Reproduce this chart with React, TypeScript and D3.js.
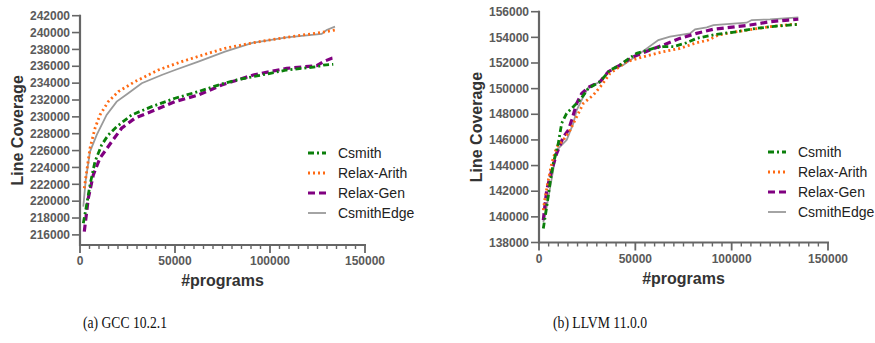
import React from "react";
import * as d3 from "d3";

// ---------- data: GCC 10.2.1 ----------
const gccCsmithX = [1750, 3500, 5260, 7900, 11400, 14900, 19300, 27200, 37700, 50000, 62300, 74600, 82500, 91200, 108800, 124600, 128100, 133300];
const gccCsmithY = [217390, 219560, 221930, 224700, 226670, 227860, 228840, 230230, 231210, 232210, 233000, 233900, 234380, 234770, 235560, 235950, 236150, 236230];
const gccArithX = [2260, 3500, 5260, 7900, 10500, 14900, 20200, 28900, 41200, 53500, 67500, 76300, 91200, 108800, 126300, 134200];
const gccArithY = [221540, 223500, 226280, 228650, 230230, 231810, 233000, 234180, 235560, 236550, 237540, 238130, 238800, 239440, 239990, 240300];
const gccGenX = [2260, 4370, 7000, 10500, 16700, 21900, 28900, 39500, 50000, 62300, 74600, 91200, 108800, 124600, 128100, 132500, 134200];
const gccGenY = [216390, 220350, 223120, 225100, 227060, 228650, 229840, 230820, 231810, 232600, 233780, 234970, 235760, 236070, 236550, 236950, 237020];
const gccEdgeX = [1750, 3000, 5260, 8800, 14000, 19300, 25400, 32500, 43000, 50000, 62300, 76300, 91200, 108800, 127200, 129800, 134200];
const gccEdgeY = [219360, 222500, 225880, 227860, 230230, 231810, 232800, 233990, 234970, 235560, 236550, 237730, 238800, 239440, 239830, 240300, 240700];

// ---------- data: LLVM 11.0.0 ----------
const llvmCsmithX = [2230, 4000, 5710, 7420, 10020, 11760, 14350, 18680, 21280, 25590, 31660, 36850, 42040, 45510, 50700, 59330, 64520, 69700, 76600, 81800, 92200, 102600, 112900, 123300, 134600];
const llvmCsmithY = [139090, 140780, 142610, 144170, 145730, 147290, 148070, 148720, 149110, 150020, 150540, 151450, 151840, 152230, 152750, 153140, 153270, 153270, 153580, 153920, 154240, 154440, 154700, 154880, 155010];
const llvmArithX = [2230, 3110, 4830, 6590, 9190, 12640, 16110, 18700, 23020, 28200, 32540, 36850, 45510, 54140, 64520, 73200, 81800, 87900, 93100, 102600, 119900, 131100, 134600];
const llvmArithY = [140520, 141430, 142860, 144170, 145460, 145990, 146760, 147550, 148850, 149500, 150280, 151190, 152100, 152490, 152880, 153140, 153580, 153790, 154180, 154440, 154830, 155010, 155010];
const llvmGenX = [2230, 4000, 6590, 9190, 12640, 15220, 16980, 19580, 22170, 25590, 31660, 35990, 42040, 48970, 57620, 64520, 73200, 81800, 90500, 99100, 109500, 119900, 129400, 134600];
const llvmGenY = [139740, 142080, 143640, 144950, 146240, 146760, 147550, 148850, 149630, 150100, 150540, 151320, 151840, 152490, 153010, 153400, 153920, 154310, 154630, 154780, 154960, 155220, 155350, 155410];
const llvmEdgeX = [2230, 4000, 9190, 14350, 17800, 19580, 23020, 25590, 31660, 36850, 43770, 52440, 61940, 68000, 78400, 81000, 87100, 90500, 107800, 110400, 119900, 134600];
const llvmEdgeY = [139600, 140780, 145200, 145990, 147290, 148330, 149370, 150100, 150540, 151400, 151840, 152750, 153790, 154050, 154310, 154630, 154780, 154960, 155140, 155350, 155400, 155560];

// ---------- labels / ticks ----------
const seriesNames = ["Csmith", "Relax-Arith", "Relax-Gen", "CsmithEdge"];
const xMajorTicks = [0, 50000, 100000, 150000];
const xMinorStep = 5000;
const gccYTicks = d3.range(216000, 242001, 2000);
const llvmYTicks = d3.range(138000, 156001, 2000);
const captions = ["(a) GCC 10.2.1", "(b) LLVM 11.0.0"];
const xTitle = "#programs";
const yTitle = "Line Coverage";

const styles = [
  { color: "#0a7f0a", width: 2.8, dash: "6,3,2,3" },
  { color: "#ff6a13", width: 2.8, dash: "2,3" },
  { color: "#800080", width: 3.2, dash: "7,4" },
  { color: "#9a9a9a", width: 1.8, dash: "" },
];

const FONT = "'Liberation Sans', Arial, sans-serif";
const SERIF = "'Liberation Serif', 'Times New Roman', serif";
const AXIS = "#666";

type PanelProps = {
  xs: number[][];
  ys: number[][];
  yDomain: [number, number];
  yTicks: number[];
  left: number;
  right: number;
  top: number;
  bottom: number;
  yTopTick: number;
  legendX: number;
  legendY: number;
  yTitleX: number;
};

function Panel(p: PanelProps) {
  const x = d3.scaleLinear().domain([0, 150000]).range([p.left, p.right]);
  const y = d3.scaleLinear().domain(p.yDomain).range([p.bottom, p.top]);
  const minor = d3.range(0, 150001, xMinorStep);
  const axisTop = y(p.yTopTick);
  const line = d3.line<[number, number]>().x((d) => x(d[0])).y((d) => y(d[1]));
  return (
    <g>
      {/* y axis */}
      <line x1={p.left} x2={p.left} y1={axisTop - 1} y2={p.bottom + 1} stroke={AXIS} strokeWidth={2.2} />
      {p.yTicks.map((t) => (
        <g key={t}>
          <line x1={p.left - 8} x2={p.left} y1={y(t)} y2={y(t)} stroke={AXIS} strokeWidth={1.6} />
          <text x={p.left - 10} y={y(t)} dy="0.35em" textAnchor="end" fontFamily={FONT} fontWeight="bold" fontSize={12} fill="#5a5a5a">
            {t}
          </text>
        </g>
      ))}
      {/* x axis */}
      <line x1={p.left - 1} x2={p.right + 1} y1={p.bottom} y2={p.bottom} stroke={AXIS} strokeWidth={2.2} />
      {minor.map((t) => {
        const major = xMajorTicks.includes(t);
        return (
          <line key={t} x1={x(t)} x2={x(t)} y1={p.bottom} y2={p.bottom + (major ? 8 : 4)} stroke={AXIS} strokeWidth={major ? 1.8 : 1.4} />
        );
      })}
      {xMajorTicks.map((t) => (
        <text key={t} x={x(t)} y={p.bottom + 20} textAnchor="middle" fontFamily={FONT} fontWeight="bold" fontSize={12} fill="#5a5a5a">
          {t}
        </text>
      ))}
      <text x={(p.left + p.right) / 2} y={p.bottom + 41} textAnchor="middle" fontFamily={FONT} fontWeight="bold" fontSize={16} fill="#333">
        {xTitle}
      </text>
      <text transform={`translate(${p.yTitleX},${(axisTop + p.bottom) / 2}) rotate(-90)`} textAnchor="middle" dy="0.35em" fontFamily={FONT} fontWeight="bold" fontSize={16} fill="#333">
        {yTitle}
      </text>
      {/* series */}
      {p.xs
        .map((xs, i) => {
          const pts = xs.map((v, j) => [v, p.ys[i][j]] as [number, number]);
          const s = styles[i];
          return (
            <path key={i} d={line(pts) || ""} fill="none" stroke={s.color} strokeWidth={s.width} strokeDasharray={s.dash || undefined} strokeLinecap="butt" />
          );
        })
        .reverse()}
      {/* legend */}
      {seriesNames.map((n, i) => {
        const s = styles[i];
        const ly = p.legendY + i * 20;
        return (
          <g key={n}>
            <line x1={p.legendX} x2={p.legendX + 18} y1={ly} y2={ly} stroke={s.color} strokeWidth={s.width} strokeDasharray={s.dash || undefined} />
            <text x={p.legendX + 30} y={ly} dy="0.35em" fontFamily={FONT} fontSize={14} fill="#222">
              {n}
            </text>
          </g>
        );
      })}
    </g>
  );
}

export default function App() {
  return (
    <svg width={875} height={343} style={{ position: "absolute", left: 0, top: 0, background: "#fff" }}>
      <rect width={875} height={343} fill="#fff" />
      <Panel
        xs={[gccCsmithX, gccArithX, gccGenX, gccEdgeX]}
        ys={[gccCsmithY, gccArithY, gccGenY, gccEdgeY]}
        yDomain={[214800, 242000]}
        yTicks={gccYTicks}
        yTopTick={242000}
        left={80}
        right={365}
        top={15.7}
        bottom={245}
        legendX={308}
        legendY={153}
        yTitleX={17}
      />
      <Panel
        xs={[llvmCsmithX, llvmArithX, llvmGenX, llvmEdgeX]}
        ys={[llvmCsmithY, llvmArithY, llvmGenY, llvmEdgeY]}
        yDomain={[138000, 156000]}
        yTicks={llvmYTicks}
        yTopTick={156000}
        left={539}
        right={828}
        top={11.7}
        bottom={242.5}
        legendX={768}
        legendY={152}
        yTitleX={476}
      />
      <text x={125} y={322} dy="0.35em" textAnchor="middle" fontFamily={SERIF} fontSize={16} textLength={84} lengthAdjust="spacingAndGlyphs" fill="#111">
        {captions[0]}
      </text>
      <text x={600} y={322} dy="0.35em" textAnchor="middle" fontFamily={SERIF} fontSize={16} textLength={94} lengthAdjust="spacingAndGlyphs" fill="#111">
        {captions[1]}
      </text>
    </svg>
  );
}
